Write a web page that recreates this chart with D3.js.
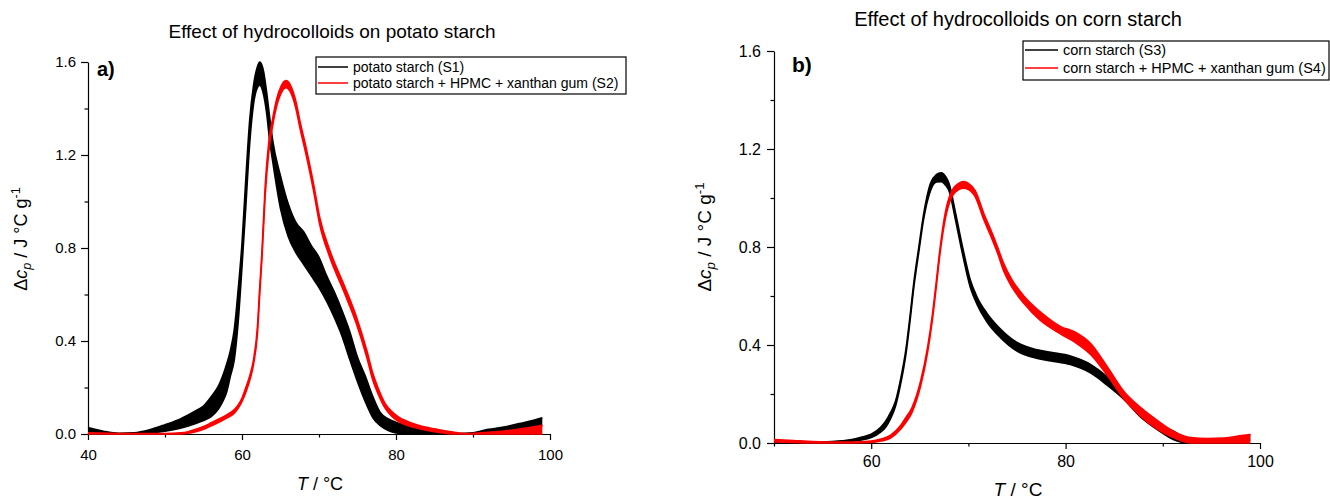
<!DOCTYPE html>
<html lang="en">
  <head>
    <meta charset="UTF-8" />
    <title>Effect of hydrocolloids on starch</title>
    <script src="https://d3js.org/d3.v7.min.js"></script>
    <style>
      body { margin: 0; background: #fff; }
      text { font-family: Arial, 'Liberation Sans', sans-serif; fill: #000; }
    </style>
  </head>
  <body>
    <div id="chart"></div>
    <script>
      // ---- data (T in °C, Δcp in J °C g^-1)
      // each curve is a band: lo / hi edges of the repeated scans
      const s1T  = [40, 42, 44, 46, 48, 50, 52, 54, 55, 56, 57, 57.5, 58, 58.5, 59, 59.5, 60, 60.5, 61, 61.5, 62, 62.3, 62.8, 63.2, 63.6, 64, 65, 66, 67, 68, 69, 70, 71, 72, 73, 74, 75, 76, 77, 78, 79, 80, 82, 84, 86, 88, 90, 92, 94, 96, 98, 99]
      const s1Lo = [0.005, 0, 0, 0, 0.004, 0.012, 0.025, 0.045, 0.058, 0.075, 0.11, 0.14, 0.18, 0.25, 0.32, 0.48, 0.72, 0.98, 1.25, 1.42, 1.49, 1.5, 1.46, 1.38, 1.26, 1.17, 0.97, 0.85, 0.78, 0.73, 0.68, 0.63, 0.57, 0.5, 0.42, 0.32, 0.225, 0.14, 0.07, 0.035, 0.015, 0.005, 0, 0, 0, 0, 0, 0.005, 0.012, 0.02, 0.03, 0.035]
      const s1Hi = [0.028, 0.012, 0.003, 0.005, 0.018, 0.04, 0.065, 0.1, 0.12, 0.16, 0.21, 0.25, 0.3, 0.36, 0.45, 0.62, 0.82, 1.1, 1.35, 1.5, 1.58, 1.6, 1.56, 1.47, 1.36, 1.26, 1.11, 0.99, 0.91, 0.87, 0.81, 0.76, 0.68, 0.61, 0.53, 0.44, 0.33, 0.25, 0.16, 0.09, 0.065, 0.05, 0.035, 0.02, 0.01, 0.002, 0.005, 0.02, 0.03, 0.045, 0.06, 0.07]

      const s2T  = [40, 45, 50, 52, 53, 54, 55, 56, 57, 58, 59, 59.5, 60, 60.5, 61, 61.5, 62, 62.3, 62.6, 63, 63.5, 64, 64.5, 65, 65.7, 66.3, 67, 67.5, 68.4, 69.3, 70.1, 71.4, 73.2, 74.9, 76.2, 77, 77.7, 78.6, 79.5, 80.3, 81.5, 82.9, 85, 87.4, 89, 91, 93.7, 96.7, 99]
      const s2Lo = [0, 0, 0, 0, 0.003, 0.01, 0.02, 0.035, 0.05, 0.068, 0.09, 0.11, 0.14, 0.18, 0.23, 0.3, 0.43, 0.6, 0.76, 1.02, 1.22, 1.33, 1.41, 1.46, 1.49, 1.47, 1.4, 1.32, 1.19, 1.045, 0.9, 0.76, 0.615, 0.47, 0.33, 0.23, 0.17, 0.11, 0.075, 0.055, 0.037, 0.024, 0.01, 0, 0, 0, 0, 0, 0]
      const s2Hi = [0.005, 0.002, 0.002, 0.005, 0.01, 0.02, 0.032, 0.048, 0.065, 0.082, 0.105, 0.125, 0.155, 0.2, 0.25, 0.32, 0.46, 0.63, 0.79, 1.06, 1.26, 1.36, 1.44, 1.49, 1.52, 1.5, 1.43, 1.35, 1.22, 1.075, 0.93, 0.79, 0.645, 0.5, 0.36, 0.26, 0.195, 0.13, 0.095, 0.074, 0.054, 0.038, 0.022, 0.008, 0.002, 0.005, 0.012, 0.025, 0.038]

      const s3T  = [50, 54, 56, 57, 58, 59, 60, 61, 61.5, 62, 62.5, 63, 63.6, 64, 64.4, 64.9, 65.4, 66.1, 66.7, 67.2, 67.7, 68, 68.7, 69.4, 70.2, 70.9, 71.9, 73.3, 75, 77.1, 78.5, 80.5, 82.6, 84.3, 86, 87.7, 89.5, 91.2, 92.5, 93.5, 95, 97, 98, 99]
      const s3Lo = [0, 0, 0.002, 0.004, 0.007, 0.012, 0.022, 0.045, 0.065, 0.1, 0.15, 0.235, 0.37, 0.5, 0.64, 0.78, 0.915, 1.03, 1.065, 1.067, 1.05, 1.03, 0.905, 0.77, 0.635, 0.565, 0.495, 0.43, 0.375, 0.345, 0.335, 0.32, 0.285, 0.235, 0.178, 0.107, 0.053, 0.012, 0, 0, 0, 0, 0.005, 0.01]
      const s3Hi = [0.003, 0.003, 0.006, 0.009, 0.014, 0.024, 0.036, 0.065, 0.09, 0.125, 0.17, 0.255, 0.39, 0.52, 0.66, 0.8, 0.935, 1.06, 1.095, 1.103, 1.085, 1.06, 0.935, 0.8, 0.665, 0.595, 0.53, 0.465, 0.41, 0.38, 0.37, 0.355, 0.32, 0.27, 0.203, 0.135, 0.08, 0.046, 0.015, 0.005, 0.003, 0.008, 0.02, 0.035]

      const s4T  = [50, 52, 54, 56, 58, 60, 61, 62, 63, 63.5, 64.2, 65.1, 65.8, 66.3, 66.7, 67.1, 67.6, 68.3, 69, 69.5, 70, 70.7, 71.6, 72.3, 73, 73.6, 74.5, 75.7, 77.4, 79.5, 80.9, 82.6, 84.3, 86, 87.7, 89.5, 91.2, 92.9, 94.6, 96.3, 98.1, 99]
      const s4Lo = [0.004, 0.002, 0, 0, 0, 0.002, 0.008, 0.02, 0.055, 0.08, 0.125, 0.235, 0.37, 0.505, 0.64, 0.78, 0.91, 1.005, 1.035, 1.04, 1.035, 1.005, 0.91, 0.845, 0.775, 0.705, 0.635, 0.57, 0.5, 0.445, 0.413, 0.36, 0.275, 0.18, 0.11, 0.055, 0.02, 0, 0, 0, 0, 0]
      const s4Hi = [0.014, 0.01, 0.006, 0.004, 0.004, 0.008, 0.016, 0.032, 0.07, 0.1, 0.145, 0.255, 0.39, 0.525, 0.66, 0.8, 0.935, 1.03, 1.06, 1.067, 1.06, 1.03, 0.935, 0.87, 0.8, 0.735, 0.665, 0.6, 0.535, 0.475, 0.454, 0.405, 0.31, 0.21, 0.145, 0.09, 0.045, 0.022, 0.018, 0.02, 0.03, 0.035]

      const yMajor = [0, 0.4, 0.8, 1.2, 1.6]
      const yMinor = [0.2, 0.6, 1.0, 1.4]

      const svg = d3.select('#chart').append('svg')
        .attr('width', 1330).attr('height', 502)

      function band(T, lo, hi) {
        return T.map((t, i) => ({ t: t, lo: lo[i], hi: hi[i] }))
      }

      function drawPanel(p) {
        const g = svg.append('g')
        const x = d3.scaleLinear().domain(p.xDomain).range(p.xRange)
        const y = d3.scaleLinear().domain([0, 1.6]).range(p.yRange)

        // axes (major + minor ticks, no frame)
        g.append('g').attr('transform', `translate(0,${p.yRange[0]})`)
          .call(d3.axisBottom(x).tickValues(p.xMajor).tickSize(6).tickSizeOuter(0).tickPadding(p.xPad).tickFormat(d3.format('d')))
        g.append('g').attr('transform', `translate(0,${p.yRange[0]})`)
          .call(d3.axisBottom(x).tickValues(p.xMinor).tickSize(3.5).tickFormat(''))
          .select('.domain').remove()
        g.append('g').attr('transform', `translate(${p.xRange[0]},0)`)
          .call(d3.axisLeft(y).tickValues(yMajor).tickSize(7).tickSizeOuter(0).tickPadding(p.yPad).tickFormat(d3.format('.1f')))
        g.append('g').attr('transform', `translate(${p.xRange[0]},0)`)
          .call(d3.axisLeft(y).tickValues(yMinor).tickSize(3.5).tickFormat(''))
          .select('.domain').remove()
        g.selectAll('.domain, .tick line').attr('stroke', '#000').attr('stroke-width', 1.2)
        g.selectAll('.tick text').attr('font-family', 'Arial, Liberation Sans, sans-serif')
          .attr('font-size', p.tickFont).attr('fill', '#000')

        // curves: filled band between scans, outlined
        const area = d3.area().curve(d3.curveMonotoneX)
          .x(d => x(d.t)).y0(d => y(d.lo)).y1(d => y(d.hi))
        const lineLo = d3.line().curve(d3.curveMonotoneX).x(d => x(d.t)).y(d => y(d.lo))
        const lineHi = d3.line().curve(d3.curveMonotoneX).x(d => x(d.t)).y(d => y(d.hi))
        p.series.forEach(s => {
          g.append('path').datum(s.data).attr('d', area).attr('fill', s.color)
          g.append('path').datum(s.data).attr('d', lineLo).attr('fill', 'none')
            .attr('stroke', s.color).attr('stroke-width', 1.6)
          g.append('path').datum(s.data).attr('d', lineHi).attr('fill', 'none')
            .attr('stroke', s.color).attr('stroke-width', 1.6)
        })

        // title, panel letter
        g.append('text').attr('x', p.title[0]).attr('y', p.title[1]).attr('text-anchor', 'middle')
          .attr('font-size', p.titleFont).text(p.titleText)
        g.append('text').attr('x', p.letter[0]).attr('y', p.letter[1])
          .attr('font-size', p.letterFont).attr('font-weight', 'bold').text(p.letterText)

        // axis titles
        const xl = g.append('text').attr('x', p.xLabel[0]).attr('y', p.xLabel[1])
          .attr('text-anchor', 'middle').attr('font-size', p.labelFont)
        xl.append('tspan').attr('font-style', 'italic').text('T')
        xl.append('tspan').text(' / °C')

        const yl = g.append('text').attr('text-anchor', 'middle').attr('font-size', p.labelFont)
          .attr('transform', `translate(${p.yLabel[0]},${p.yLabel[1]}) rotate(-90)`)
        yl.append('tspan').text('Δ')
        yl.append('tspan').attr('font-style', 'italic').text('c')
        yl.append('tspan').attr('font-style', 'italic').attr('font-size', '0.7em').attr('dy', '0.3em').text('p')
        yl.append('tspan').attr('dy', '-0.21em').text(' / J °C g')
        yl.append('tspan').attr('font-size', '0.7em').attr('dy', '-0.55em').text('-1')

        // legend
        const lg = g.append('g')
        const b = p.legendBox
        lg.append('rect').attr('x', b[0]).attr('y', b[1]).attr('width', b[2]).attr('height', b[3])
          .attr('fill', '#fff').attr('stroke', '#000').attr('stroke-width', 1.2)
        p.series.forEach((s, i) => {
          const ly = p.legendRows[i]
          lg.append('line').attr('x1', p.legendLine[0]).attr('x2', p.legendLine[1])
            .attr('y1', ly).attr('y2', ly).attr('stroke', s.color).attr('stroke-width', 1.5)
          lg.append('text').attr('x', p.legendLine[1] + 5).attr('y', ly + 5)
            .attr('font-size', p.legendFont).text(s.name)
        })
      }

      drawPanel({
        xDomain: [40, 100], xRange: [88, 550], yRange: [434, 62],
        xMajor: [40, 60, 80, 100], xMinor: [50, 70, 90],
        xPad: 9, yPad: 5, tickFont: 15,
        titleText: 'Effect of hydrocolloids on potato starch', title: [332, 38], titleFont: 19,
        letterText: 'a)', letter: [97, 76], letterFont: 20,
        xLabel: [320, 490], yLabel: [27, 239], labelFont: 18,
        legendBox: [316, 57, 310, 37], legendLine: [318, 348], legendRows: [67, 83], legendFont: 14,
        series: [
          { name: 'potato starch (S1)', color: '#000', data: band(s1T, s1Lo, s1Hi) },
          { name: 'potato starch + HPMC + xanthan gum (S2)', color: '#ff0000', data: band(s2T, s2Lo, s2Hi) }
        ]
      })

      drawPanel({
        xDomain: [50, 100], xRange: [774, 1260], yRange: [443, 51],
        xMajor: [60, 80, 100], xMinor: [50, 70, 90],
        xPad: 7, yPad: 6, tickFont: 16,
        titleText: 'Effect of hydrocolloids on corn starch', title: [1018, 26], titleFont: 20,
        letterText: 'b)', letter: [792, 72], letterFont: 21,
        xLabel: [1018, 496], yLabel: [711, 237], labelFont: 19,
        legendBox: [1023, 41, 306, 39], legendLine: [1025, 1058], legendRows: [50, 68], legendFont: 14.5,
        series: [
          { name: 'corn starch (S3)', color: '#000', data: band(s3T, s3Lo, s3Hi) },
          { name: 'corn starch + HPMC + xanthan gum (S4)', color: '#ff0000', data: band(s4T, s4Lo, s4Hi) }
        ]
      })
    </script>
  </body>
</html>
